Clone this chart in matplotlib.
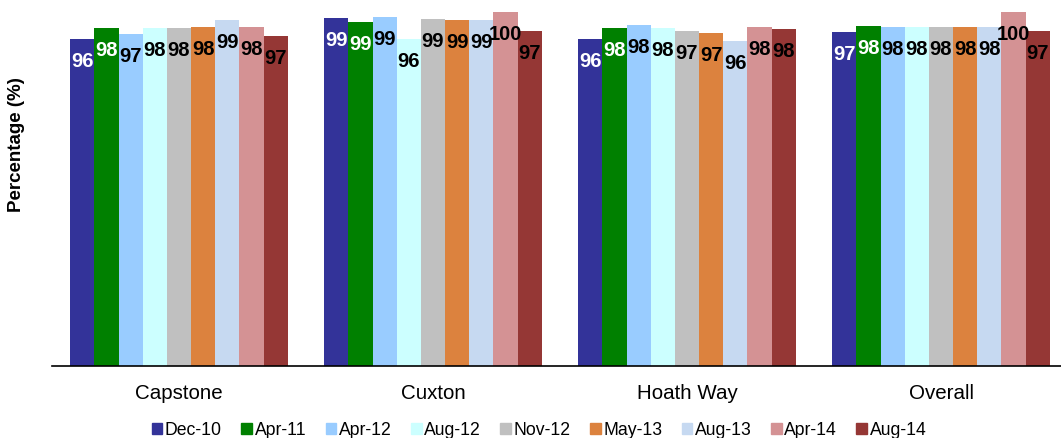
import matplotlib
matplotlib.use("Agg")
import matplotlib.pyplot as plt
import numpy as np
from matplotlib.patches import Patch

plt.rcParams['font.family'] = ['Liberation Sans', 'DejaVu Sans']

# Survey results by site (percentage satisfied)
sites = ['Capstone', 'Cuxton', 'Hoath Way', 'Overall']
surveys = ['Dec-10', 'Apr-11', 'Apr-12', 'Aug-12', 'Nov-12',
           'May-13', 'Aug-13', 'Apr-14', 'Aug-14']

capstone = [96.2, 97.8, 96.9, 97.8, 97.8, 97.9, 98.9, 97.9, 96.7]
cuxton = [99.2, 98.6, 99.4, 96.2, 99.0, 98.9, 98.9, 100.0, 97.3]
hoath_way = [96.2, 97.8, 98.2, 97.8, 97.3, 97.1, 95.9, 97.9, 97.6]
overall = [97.2, 98.1, 97.9, 97.9, 97.9, 97.9, 97.9, 100.0, 97.3]

colors = ['#333399', '#008000', '#99CCFF', '#CCFFFF', '#C0C0C0',
          '#DC823E', '#C6D9F1', '#D49294', '#953735']
label_colors = ['white', 'white'] + ['black'] * 7

values = np.array([capstone, cuxton, hoath_way, overall])

fig = plt.figure(figsize=(10.61, 4.39), dpi=100)
ax = fig.add_axes([52 / 1061, (439 - 367.3) / 439, 1016 / 1061, 354 / 439])

x = np.arange(len(sites))
n = len(surveys)
w = 0.0952
for i, (name, col, tcol) in enumerate(zip(surveys, colors, label_colors)):
    pos = x + (i - (n - 1) / 2) * w
    vals = values[:, i]
    ax.bar(pos, vals, w, color=col, label=name, zorder=2)
    for px, v in zip(pos, vals):
        ax.annotate(f'{v:.0f}', (px, v), xytext=(0, -27),
                    textcoords='offset pixels', ha='center', va='baseline',
                    fontsize=14.5, fontweight='bold', color=tcol, zorder=3)

ax.set_ylim(50, 100)
ax.set_xlim(-0.5, len(sites) - 0.5)
for side in ('top', 'right', 'left'):
    ax.spines[side].set_visible(False)
ax.spines['bottom'].set_color('black')
ax.spines['bottom'].set_linewidth(1.2)
ax.spines['bottom'].set_zorder(4)
ax.set_yticks([])
ax.set_xticks(x, sites, fontsize=14.8)
ax.tick_params(axis='x', length=0, pad=12)

fig.text(0.016, 0.67, 'Percentage (%)', rotation=90, ha='center',
         va='center', fontsize=13.5, fontweight='bold')

handles = [Patch(color=c) for c in colors]
fig.legend(handles, surveys, loc='center',
           bbox_to_anchor=(539 / 1061, 1 - 431 / 439), ncol=n,
           frameon=False, fontsize=12.7, handlelength=0.6, handleheight=0.6,
           handletextpad=0.15, columnspacing=1.1)

fig.savefig('out.png', dpi=100)
